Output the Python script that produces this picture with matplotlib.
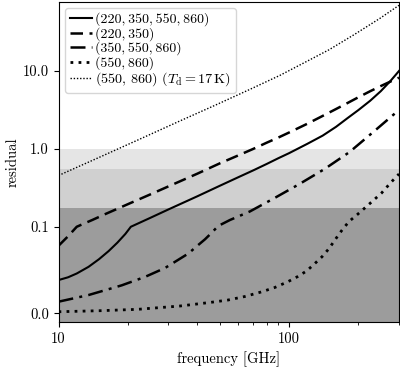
import numpy as np
import matplotlib
matplotlib.use("Agg")
import matplotlib.pyplot as plt
from matplotlib.ticker import FixedLocator, FormatStrFormatter, NullLocator, NullFormatter, FuncFormatter

plt.rcParams['font.family'] = 'serif'
plt.rcParams['font.serif'] = ['cmr10']
plt.rcParams['mathtext.fontset'] = 'cm'
plt.rcParams['axes.formatter.use_mathtext'] = True
plt.rcParams['axes.unicode_minus'] = False

# ---- data ----
freq_all = [10, 11, 12, 13.5, 15, 16.5, 18, 19.5, 20.6, 25, 30, 40, 50, 60, 70, 80, 90, 100,
            120, 140, 160, 180, 200, 225, 250, 275, 300]
res_all = [0.0384, 0.0416, 0.046, 0.0537, 0.0626, 0.0719, 0.0816, 0.0917, 0.100, 0.130, 0.167,
           0.246, 0.335, 0.43, 0.53, 0.64, 0.76, 0.88, 1.16, 1.48, 1.92, 2.5, 3.15, 4.15, 5.5,
           7.4, 10.0]

freq_lo = [10, 11, 12, 13, 14, 16, 18, 20, 25, 30, 40, 50, 60, 70, 80, 90, 100, 120, 140,
           160, 180, 200, 225, 250, 275, 300]
res_lo = [0.078, 0.089, 0.100, 0.111, 0.122, 0.146, 0.17, 0.195, 0.26, 0.33, 0.48, 0.65, 0.82,
          1.0, 1.2, 1.4, 1.62, 2.1, 2.65, 3.25, 3.9, 4.6, 5.5, 6.4, 7.3, 8.2]

freq_hi = [10, 13.5, 18.8, 23.7, 29, 36.6, 40, 43.2, 46, 49.3, 55.4, 67.6, 86.6, 111,
           142.6, 183, 235, 300]
res_hi = [0.0134, 0.0211, 0.0323, 0.042, 0.0524, 0.0691, 0.078, 0.0855, 0.0926, 0.1024, 0.122,
          0.157, 0.234, 0.354, 0.551, 0.91, 1.70, 3.16]

freq_2b = [10, 15.15, 22.1, 33.6, 45.3, 54.3, 64.3, 76.3, 86.7, 98.7, 109, 119, 128, 139, 149,
           158, 166, 173, 183, 199, 223, 252, 278, 300]
res_2b = [0.0018, 0.0030, 0.0046, 0.0084, 0.0125, 0.0153, 0.0194, 0.0249, 0.0298, 0.0364,
          0.0424, 0.0488, 0.0563, 0.0653, 0.0747, 0.0845, 0.0926, 0.099, 0.1184, 0.1456, 0.196,
          0.271, 0.376, 0.476]

freq_td = [10, 15.15, 22.6, 33.6, 47.6, 67.6, 91.3, 116, 149, 191, 248, 300]
res_td = [0.455, 0.787, 1.34, 2.28, 3.61, 5.8, 8.78, 12.7, 18.7, 29.1, 47.4, 69.7]

band_tops = [1.0, 0.554, 0.174]
band_colors = ['#e5e5e5', '#d0d0d0', '#9c9c9c']

labels = ['(220,\u2009350,\u2009550,\u2009860)',
          '(220,\u2009350)',
          '(350,\u2009550,\u2009860)',
          '(550,\u2009860)',
          r'$(550,\,860)$ $(T_\mathrm{d} = 17\,\mathrm{K})$']

# ---- figure ----
fig = plt.figure(figsize=(4, 3.68), dpi=100)
ax = fig.add_axes([58.5 / 400, 1 - 322.3 / 368, (399 - 58.5) / 400, (322.3 - 1.5) / 368])

ax.set_xscale('log')
ax.set_yscale('symlog', linthresh=0.1, linscale=1)
ymin, ymax = -0.0104, 78

for top, c in zip(band_tops, band_colors):
    ax.axhspan(ymin, top, color=c, lw=0, zorder=0)

ax.plot(freq_all, res_all, color='k', ls='-', lw=1.5, label=labels[0])
ax.plot(freq_lo, res_lo, color='k', ls=(0, (5, 2.6)), lw=1.8, label=labels[1])
ax.plot(freq_hi, res_hi, color='k', ls=(0, (6, 2.5, 1.2, 2.5)), lw=1.8, label=labels[2])
ax.plot(freq_2b, res_2b, color='k', ls=(0, (1, 1.9)), lw=2.0, label=labels[3])
ax.plot(freq_td, res_td, color='k', ls=(0, (1, 1.3)), lw=1.0, label=labels[4])

ax.set_xlim(10, 300)
ax.set_ylim(ymin, ymax)

ax.yaxis.set_major_locator(FixedLocator([0, 0.1, 1, 10]))
ax.yaxis.set_major_formatter(FormatStrFormatter('%.1f'))
ax.yaxis.set_minor_locator(NullLocator())
ax.xaxis.set_major_formatter(FuncFormatter(lambda v, p: f'{v:g}'))
ax.xaxis.set_minor_formatter(NullFormatter())
ax.tick_params(labelsize=10.5)

ax.set_xlabel('frequency [GHz]', fontsize=10.5, labelpad=4)
ax.set_ylabel('residual', fontsize=10.5, labelpad=2)

leg = ax.legend(loc='upper left', prop={'family': ['cmr10', 'DejaVu Serif'], 'size': 10.0},
                labelspacing=0.05, handlelength=1.6, handletextpad=0.25, borderpad=0.35,
                borderaxespad=0.45)
leg.get_texts()[4].set_fontsize(10.2)

fig.savefig('out.png', dpi=100)
